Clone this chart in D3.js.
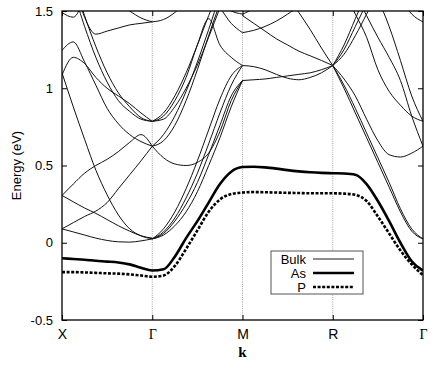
<!DOCTYPE html>
<html><head><meta charset="utf-8">
<script src="https://cdn.jsdelivr.net/npm/d3@7"></script>
<style>body{margin:0;background:#fff}svg{display:block}</style>
</head><body><svg id="c" width="434" height="370"></svg>
<script>
// ---- data ----
const kLabels = ["X", "Γ", "M", "R", "Γ"];
const kTicks = [0, 1, 2, 3, 4];
const yTicks = [-0.5, 0, 0.5, 1, 1.5];
const yTickLabels = ["-0.5", "0", "0.5", "1", "1.5"];
const segStep = 0.125; // sampling within each segment (9 samples per segment)

// bulk bands, X -> Gamma
const bulkXG = [
  [0.09, 0.07, 0.05, 0.03, 0.015, 0.006, 0.004, 0.012, 0.025],
  [1.10, 0.88, 0.67, 0.47, 0.31, 0.18, 0.09, 0.045, 0.025],
  [0.306, 0.265, 0.225, 0.19, 0.15, 0.11, 0.075, 0.045, 0.03],
  [0.09, 0.13, 0.17, 0.205, 0.26, 0.35, 0.44, 0.53, 0.625],
  [0.306, 0.38, 0.45, 0.50, 0.54, 0.59, 0.65, 0.70, 0.625],
  [1.245, 1.30, 1.17, 1.02, 0.87, 0.77, 0.70, 0.655, 0.625],
  [1.75, 1.62, 1.40, 1.20, 1.04, 0.92, 0.85, 0.80, 0.786],
  [1.85, 1.70, 1.47, 1.27, 1.10, 0.97, 0.88, 0.81, 0.786],
  [1.085, 1.20, 1.16, 1.07, 1.00, 0.95, 0.90, 0.84, 0.786],
  [1.9, 1.7, 1.46, 1.35, 1.37, 1.39, 1.41, 1.42, 1.43],
  [2.2, 2.0, 1.85, 1.72, 1.62, 1.55, 1.50, 1.455, 1.43],
  [1.49, 1.46, 1.58, 1.75, 1.9, 2.0, 2.1, 2.2, 2.3]
];
// bulk bands, Gamma -> M
const bulkGM = [
  [0.025, 0.05, 0.11, 0.20, 0.33, 0.50, 0.68, 0.88, 1.05],
  [0.025, 0.06, 0.14, 0.25, 0.39, 0.57, 0.76, 0.95, 1.05],
  [0.025, 0.07, 0.16, 0.29, 0.45, 0.64, 0.84, 1.02, 1.147],
  [0.025, 0.09, 0.20, 0.35, 0.53, 0.73, 0.93, 1.08, 1.147],
  [0.625, 0.55, 0.51, 0.50, 0.52, 0.58, 0.72, 0.92, 1.05],
  [0.786, 0.84, 0.95, 1.10, 1.28, 1.47, 1.65, 1.85, 2.0],
  [0.625, 0.70, 0.82, 0.98, 1.17, 1.38, 1.60, 1.8, 2.0],
  [0.786, 0.80, 0.88, 1.00, 1.15, 1.33, 1.52, 1.7, 1.9],
  [0.786, 0.82, 0.92, 1.07, 1.28, 1.45, 1.28, 1.20, 1.147],
  [0.625, 0.66, 0.76, 0.92, 1.12, 1.34, 1.55, 1.75, 1.9],
  [1.43, 1.445, 1.49, 1.56, 1.65, 1.75, 1.8, 1.85, 1.9],
  [2.2, 2.1, 1.95, 1.8, 1.7, 1.6, 1.52, 1.42, 1.36],
  [2.3, 2.2, 2.1, 1.95, 1.8, 1.65, 1.55, 1.50, 1.48]
];
// bulk bands, M -> R
const bulkMR = [
  [1.147, 1.14, 1.12, 1.09, 1.065, 1.055, 1.07, 1.10, 1.147],
  [1.05, 1.055, 1.06, 1.07, 1.08, 1.09, 1.10, 1.12, 1.147],
  [1.36, 1.375, 1.40, 1.435, 1.48, 1.53, 1.6, 1.7, 1.8],
  [1.47, 1.42, 1.37, 1.32, 1.28, 1.24, 1.21, 1.18, 1.147],
  [2.0, 1.9, 1.8, 1.7, 1.6, 1.49, 1.38, 1.26, 1.147],
  [1.48, 1.52, 1.6, 1.7, 1.8, 1.9, 2.0, 2.1, 2.2]
];
// bulk bands, R -> Gamma
const bulkRG = [
  [1.147, 1.25, 1.40, 1.55, 1.7, 1.85, 2.0, 2.1, 2.2],
  [1.147, 1.28, 1.45, 1.62, 1.8, 1.95, 2.1, 2.2, 2.3],
  [1.147, 1.22, 1.34, 1.48, 1.62, 1.75, 1.9, 2.0, 2.1],
  [1.147, 1.02, 0.87, 0.71, 0.55, 0.39, 0.22, 0.09, 0.025],
  [1.147, 1.00, 0.84, 0.68, 0.52, 0.36, 0.20, 0.075, 0.025],
  [1.147, 1.06, 0.95, 0.80, 0.66, 0.57, 0.555, 0.58, 0.625],
  [2.2, 2.05, 1.9, 1.75, 1.58, 1.4, 1.18, 0.95, 0.786],
  [1.75, 1.62, 1.48, 1.33, 1.12, 0.98, 0.89, 0.82, 0.786],
  [2.0, 1.8, 1.62, 1.47, 1.33, 1.2, 1.05, 0.82, 0.625],
  [2.3, 2.2, 2.1, 2.0, 1.85, 1.7, 1.58, 1.48, 1.43]
];
// defect levels along the whole path (k = 0 .. 4, step 0.125)
const asBand = [
  -0.10, -0.105, -0.11, -0.117, -0.122, -0.128, -0.14, -0.162, -0.18,
  -0.172, -0.09, 0.03, 0.14, 0.26, 0.38, 0.46, 0.49,
  0.492, 0.488, 0.48, 0.47, 0.462, 0.456, 0.452, 0.45,
  0.448, 0.44, 0.38, 0.27, 0.14, 0.0, -0.12, -0.18
];
const pBand = [
  -0.19, -0.19, -0.192, -0.195, -0.198, -0.2, -0.205, -0.212, -0.22,
  -0.212, -0.15, -0.04, 0.08, 0.2, 0.28, 0.315, 0.325,
  0.328, 0.327, 0.325, 0.323, 0.322, 0.32, 0.32, 0.32,
  0.318, 0.31, 0.27, 0.17, 0.06, -0.05, -0.14, -0.21
];
const legendNames = ["Bulk", "As", "P"];

// ---- chart ----
const svg = d3.select("#c");
const x = d3.scaleLinear().domain([0, 4]).range([62, 423]);
const y = d3.scaleLinear().domain([-0.5, 1.5]).range([320, 11]);
const font = "'Liberation Sans', Arial, Helvetica, sans-serif";

svg.append("defs").append("clipPath").attr("id", "plotclip")
  .append("rect").attr("x", x(0)).attr("y", y(1.5))
  .attr("width", x(4) - x(0)).attr("height", y(-0.5) - y(1.5));

// vertical dotted lines at symmetry points
svg.append("g").selectAll("line").data(kTicks.slice(1, 4)).join("line")
  .attr("x1", d => x(d)).attr("x2", d => x(d))
  .attr("y1", y(-0.5)).attr("y2", y(1.5))
  .attr("stroke", "#8a8a8a").attr("stroke-width", 0.8)
  .attr("stroke-dasharray", "1,1.2");

const line = d3.line().x(d => x(d[0])).y(d => y(d[1])).curve(d3.curveMonotoneX);
const plot = svg.append("g").attr("clip-path", "url(#plotclip)");

const segments = [bulkXG, bulkGM, bulkMR, bulkRG];
segments.forEach((bands, s) => {
  plot.append("g").selectAll("path").data(bands).join("path")
    .attr("d", b => line(b.map((v, i) => [s + i * segStep, v])))
    .attr("fill", "none").attr("stroke", "#111").attr("stroke-width", 1.0);
});

const fullPts = arr => arr.map((v, i) => [i * segStep, v]);
plot.append("path").attr("d", line(fullPts(asBand)))
  .attr("fill", "none").attr("stroke", "#000").attr("stroke-width", 2.6);
plot.append("path").attr("d", line(fullPts(pBand)))
  .attr("fill", "none").attr("stroke", "#000").attr("stroke-width", 2.6)
  .attr("stroke-dasharray", "3,1.6");

// axes
const yAxis = d3.axisLeft(y).tickValues(yTicks)
  .tickFormat((d, i) => yTickLabels[i]).tickSize(-5).tickSizeOuter(0).tickPadding(9);
const gy = svg.append("g").attr("transform", `translate(${x(0)},0)`).call(yAxis);
const gyr = svg.append("g").attr("transform", `translate(${x(4)},0)`)
  .call(d3.axisRight(y).tickValues(yTicks).tickSize(-5).tickSizeOuter(0).tickFormat(""));
const xAxis = d3.axisBottom(x).tickValues(kTicks)
  .tickFormat((d, i) => kLabels[i]).tickSize(-5).tickSizeOuter(0).tickPadding(9);
const gx = svg.append("g").attr("transform", `translate(0,${y(-0.5)})`).call(xAxis);
const gxt = svg.append("g").attr("transform", `translate(0,${y(1.5)})`)
  .call(d3.axisTop(x).tickValues(kTicks).tickSize(-5).tickSizeOuter(0).tickFormat(""));
[gy, gyr, gx, gxt].forEach(g => {
  g.select(".domain").remove();
  g.selectAll(".tick line").attr("stroke", "#000").attr("stroke-width", 1);
  g.selectAll("text").attr("font-family", font).attr("font-size", 13).attr("fill", "#000");
});
gx.selectAll("text").attr("font-size", 14)
  .attr("font-family", (d, i) => kLabels[i] === "Γ" ? "'Liberation Serif', 'DejaVu Serif', serif" : font);

// frame
svg.append("rect").attr("x", x(0)).attr("y", y(1.5))
  .attr("width", x(4) - x(0)).attr("height", y(-0.5) - y(1.5))
  .attr("fill", "none").attr("stroke", "#000").attr("stroke-width", 1.3);

// axis titles
svg.append("text").attr("transform", `translate(21,${(y(1.5) + y(-0.5)) / 2}) rotate(-90)`)
  .attr("text-anchor", "middle").attr("font-family", font).attr("font-size", 13)
  .text("Energy (eV)");
svg.append("text").attr("x", x(2)).attr("y", 357).attr("text-anchor", "middle")
  .attr("font-family", "'Liberation Serif', 'DejaVu Serif', serif")
  .attr("font-weight", "bold").attr("font-size", 15).text("k");

// legend
const lg = svg.append("g");
lg.append("rect").attr("x", 271).attr("y", 251).attr("width", 92).attr("height", 43)
  .attr("fill", "#fff").attr("stroke", "#555").attr("stroke-width", 1);
const lgStyles = [
  {w: 0.9, dash: null},
  {w: 2.6, dash: null},
  {w: 2.6, dash: "3,1.6"}
];
legendNames.forEach((name, i) => {
  const yy = 259 + i * 14;
  lg.append("text").attr("x", 306).attr("y", yy + 4.5).attr("text-anchor", "end")
    .attr("font-family", font).attr("font-size", 13).text(name);
  lg.append("line").attr("x1", 313).attr("x2", 354).attr("y1", yy).attr("y2", yy)
    .attr("stroke", "#000").attr("stroke-width", lgStyles[i].w)
    .attr("stroke-dasharray", lgStyles[i].dash);
});
</script>
</body></html>
